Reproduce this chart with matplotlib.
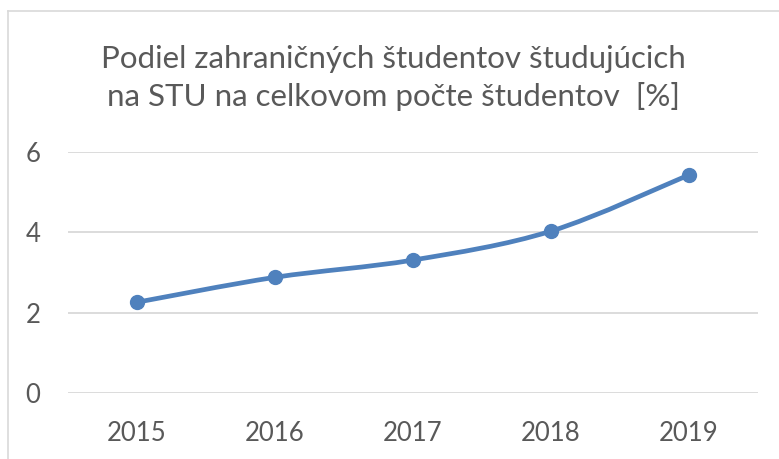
import matplotlib.pyplot as plt
import numpy as np
from matplotlib.path import Path
from matplotlib.patches import PathPatch

plt.rcParams['font.family'] = ['Lato', 'DejaVu Sans']

# data
years = ['2015', '2016', '2017', '2018', '2019']
share = [2.26, 2.88, 3.31, 4.03, 5.43]
title = 'Podiel zahraničných študentov študujúcich\nna STU na celkovom počte študentov  [%]'

line_color = '#4f81bd'
text_color = '#595959'
grid_color = '#d9d9d9'

fig = plt.figure(figsize=(7.79, 4.59), dpi=100)
ax = fig.add_axes([68 / 779, 1 - 393 / 459, 690 / 779, 241 / 459])

x = np.arange(len(years))
y = np.array(share)

# smooth curve like Excel (cardinal spline as bezier segments)
verts = [(x[0], y[0])]
codes = [Path.MOVETO]
for i in range(len(x) - 1):
    p0 = np.array([x[max(i - 1, 0)], y[max(i - 1, 0)]])
    p1 = np.array([x[i], y[i]])
    p2 = np.array([x[i + 1], y[i + 1]])
    p3 = np.array([x[min(i + 2, len(x) - 1)], y[min(i + 2, len(x) - 1)]])
    c1 = p1 + (p2 - p0) / 6
    c2 = p2 - (p3 - p1) / 6
    verts += [tuple(c1), tuple(c2), tuple(p2)]
    codes += [Path.CURVE4] * 3
ax.add_patch(PathPatch(Path(verts, codes), fill=False, edgecolor=line_color,
                       lw=3.4, capstyle='round', zorder=3))
ax.plot(x, y, 'o', color=line_color, ms=10, zorder=4)

ax.set_xlim(-0.5, 4.5)
ax.set_ylim(0, 6)
ax.set_yticks([0, 2, 4, 6])
ax.set_xticks(x)
ax.set_xticklabels(years)
ax.grid(axis='y', color=grid_color, lw=1.3)
ax.set_axisbelow(True)
for s in ax.spines.values():
    s.set_visible(False)
ax.tick_params(length=0, labelsize=18.5, colors=text_color)
ax.tick_params(axis='x', pad=20)
ax.tick_params(axis='y', pad=20)

fig.text(0.505, 1 - 78 / 459, title, ha='center', va='center', fontsize=22.5,
         color=text_color, linespacing=1.35)

# chart frame
fig.add_artist(plt.Line2D([8 / 779, 8 / 779], [0, 1 - 11 / 459], color=grid_color, lw=1.2))
fig.add_artist(plt.Line2D([8 / 779, 1], [1 - 11 / 459, 1 - 11 / 459], color=grid_color, lw=1.2))

fig.savefig('out.png', dpi=100)
